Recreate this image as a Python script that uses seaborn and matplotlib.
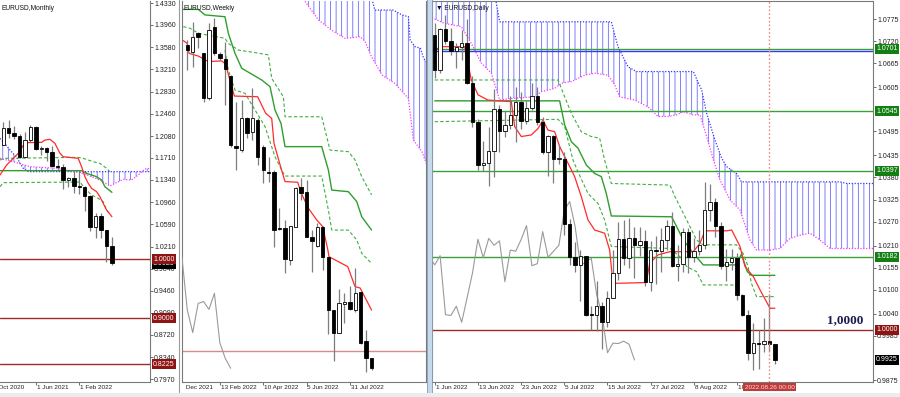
import numpy as np
import pandas as pd
import matplotlib
matplotlib.use("Agg")
import matplotlib.pyplot as plt
import matplotlib.transforms as mtransforms
from matplotlib.patches import Rectangle
from matplotlib.lines import Line2D
import seaborn as sns

sns.set_theme(style="white")
plt.rcParams["font.family"] = ["Liberation Sans", "DejaVu Sans"]
plt.rcParams["hatch.linewidth"] = 0.55

# ======================= DATA =======================
# ---- Monthly EURUSD (Dec 2020 .. Aug 2022) ----
m_open = [1.1926, 1.2216, 1.2136, 1.2075, 1.1729, 1.2020, 1.2226, 1.1858, 1.1870, 1.1808, 1.1578,
          1.1558, 1.1338, 1.1372, 1.1235, 1.1219, 1.1067, 1.0544, 1.0733, 1.0484, 1.0220]
m_high = [1.2310, 1.2350, 1.2243, 1.2113, 1.2150, 1.2266, 1.2254, 1.1909, 1.1901, 1.1909, 1.1692,
          1.1616, 1.1386, 1.1483, 1.1495, 1.1233, 1.1076, 1.0787, 1.0774, 1.0486, 1.0369]
m_low = [1.1923, 1.2053, 1.2024, 1.1704, 1.1704, 1.1986, 1.1847, 1.1752, 1.1664, 1.1563, 1.1524,
         1.1186, 1.1222, 1.1121, 1.1106, 1.0806, 1.0470, 1.0349, 1.0359, 0.9952, 0.9899]
m_close = [1.2216, 1.2136, 1.2075, 1.1729, 1.2020, 1.2226, 1.1858, 1.1870, 1.1808, 1.1578, 1.1558,
           1.1338, 1.1372, 1.1235, 1.1219, 1.1067, 1.0544, 1.0733, 1.0484, 1.0220, 0.9925]
m_tenkan_x = [-0.61, 0.61, 1.84, 2.76, 3.99, 7.06, 7.67, 8.59, 9.51, 10.43, 11.04, 13.80, 14.42,
              15.03, 15.64, 16.26, 17.18, 17.79, 18.40, 19.02, 20.0]
m_tenkan_y = [1.1421, 1.1590, 1.1703, 1.1788, 1.1968, 1.1974, 1.2013, 1.2025, 1.1957, 1.1788, 1.1731,
              1.1703, 1.1562, 1.1393, 1.1281, 1.1196, 1.1140, 1.1055, 1.0942, 1.0829, 1.0717]
m_kijun_x = [-0.61, 14.42, 15.34, 17.18, 18.10, 18.71, 20.0]
m_kijun_y = [1.1495, 1.1495, 1.1450, 1.1393, 1.1337, 1.1224, 1.1128]
m_dashA_x = [-0.61, 0.31, 13.80, 14.72, 16.56, 17.79, 19.02, 19.63]
m_dashA_y = [1.1675, 1.1703, 1.1720, 1.1703, 1.1647, 1.1619, 1.1534, 1.1478]
m_dashB_x = [-0.61, 0.0, 14.11, 15.03, 16.26, 17.48, 18.40, 19.02, 19.63]
m_dashB_y = [1.1224, 1.1292, 1.1303, 1.1196, 1.1083, 1.1027, 1.0970, 1.0829, 1.0760]
m_spanA_x = [-0.61, 0.0, 1.23, 2.45, 3.68, 4.60, 27.0]
m_spanA_y = [1.2041, 1.1985, 1.1844, 1.1720, 1.1534, 1.1478, 1.1478]
m_spanB_x = [-0.61, 1.84, 4.91, 9.82, 11.66, 14.11, 15.95, 17.79, 19.63, 20.55, 22.09, 23.62,
             24.85, 26.07, 27.0]
m_spanB_y = [1.1703, 1.1647, 1.1562, 1.1534, 1.1506, 1.1461, 1.1404, 1.1337, 1.1235, 1.1280,
             1.1348, 1.1337, 1.1421, 1.1523, 1.1534]
m_levels = [1.0000, 0.9000, 0.8225]
m_ticks = [1.4330, 1.3960, 1.3580, 1.3210, 1.2830, 1.2460, 1.2080, 1.1710, 1.1340, 1.0960, 1.0590,
           1.0210, 0.9840, 0.9460, 0.9090, 0.8720, 0.8340, 0.7970]
m_date_pos = [-2, 6, 14]
m_date_lbl = ["1 Oct 2020", "1 Jun 2021", "1 Feb 2022"]

# ---- Weekly EURUSD (week of 2 Jan 2022 .. 28 Aug 2022) ----
w_open = [1.1331, 1.1302, 1.1382, 1.1295, 1.1099, 1.1411, 1.1292, 1.1269, 1.1196, 1.0892, 1.0874,
          1.1012, 1.0954, 1.1005, 1.0889, 1.0780, 1.0780, 1.0534, 1.0534, 1.0396, 1.0541, 1.0712,
          1.0693, 1.0497, 1.0457, 1.0538, 1.0410, 1.0178, 1.0080, 1.0204, 1.0215, 1.0178, 1.0258,
          1.0045, 0.9968]
w_high = [1.1353, 1.1433, 1.1389, 1.1295, 1.1428, 1.1447, 1.1300, 1.1346, 1.1201, 1.1085, 1.1092,
          1.1019, 1.1143, 1.1012, 1.0896, 1.0845, 1.0787, 1.0621, 1.0570, 1.0544, 1.0715, 1.0751,
          1.0744, 1.0526, 1.0555, 1.0544, 1.0410, 1.0178, 1.0268, 1.0251, 1.0283, 1.0360, 1.0258,
          1.0091, 0.9968]
w_low = [1.1222, 1.1237, 1.1317, 1.1085, 1.1092, 1.1288, 1.1265, 1.1070, 1.0889, 1.0787, 1.0867,
         1.0925, 1.0918, 1.0809, 1.0729, 1.0737, 1.0454, 1.0526, 1.0338, 1.0374, 1.0538, 1.0657,
         1.0494, 1.0345, 1.0454, 1.0352, 1.0074, 0.9958, 1.0077, 1.0120, 1.0178, 1.0171, 1.0030,
         0.9910, 0.9917]
w_close = [1.1309, 1.1364, 1.1364, 1.1099, 1.1396, 1.1298, 1.1273, 1.1225, 1.0896, 1.0882, 1.1012,
           1.0947, 1.1012, 1.0845, 1.0787, 1.0776, 1.0526, 1.0530, 1.0399, 1.0544, 1.0708, 1.0689,
           1.0497, 1.0480, 1.0538, 1.0410, 1.0178, 1.0080, 1.0207, 1.0215, 1.0181, 1.0251, 1.0036,
           0.9968, 0.9925]
w_tenkan_x = [-0.74, 0, 0.31, 2.03, 3.88, 6.34, 7.08, 7.69, 8.68, 12.98, 14.46, 15.57, 16.0, 17.29,
              18.03, 20.37, 20.98, 22.34, 23.88, 24.98, 25.91, 26.15, 29.6, 30.95, 31.88, 34.0]
w_tenkan_y = [1.1350, 1.1338, 1.1295, 1.1283, 1.1259, 1.1262, 1.1248, 1.1193, 1.1109, 1.1106,
              1.1034, 1.1012, 1.0903, 1.0795, 1.0737, 1.0734, 1.0689, 1.0621, 1.0570, 1.0541,
              1.0442, 1.0410, 1.0367, 1.0280, 1.0274, 1.0178]
w_kijun_x = [-0.74, 2.03, 3.26, 6.95, 7.57, 8.80, 10.03, 13.72, 15.26, 16.18, 17.29, 18.03, 24.8,
             26.03, 26.65, 29.72, 31.26, 32.18, 34.0]
w_kijun_y = [1.1486, 1.1486, 1.1462, 1.1454, 1.1382, 1.1295, 1.1230, 1.1179, 1.1150, 1.1048, 1.0990,
             1.0889, 1.0889, 1.0787, 1.0700, 1.0693, 1.0650, 1.0584, 1.0526]
w_dashA_x = [-0.74, 0.49, 2.03, 6.95, 7.57, 9.42, 12.49, 14.95, 15.57, 17.72, 18.03, 24.8, 26.34,
             29.72, 30.95, 32.18, 34.0]
w_dashA_y = [1.1411, 1.1404, 1.1382, 1.1360, 1.1338, 1.1309, 1.1298, 1.1288, 1.1186, 1.1106, 1.1019,
             1.1019, 1.0874, 1.0867, 1.0831, 1.0758, 1.0679]
w_dashB_x = [6.95, 7.57, 8.80, 10.65, 14.34, 16.18, 17.42, 18.03, 24.8, 26.03, 26.65, 29.72, 31.26,
             32.18, 34.0]
w_dashB_y = [1.1309, 1.1222, 1.1135, 1.1121, 1.0976, 1.0845, 1.0787, 1.0761, 1.0761, 1.0613, 1.0526,
             1.0526, 1.0483, 1.0425, 1.0381]
w_spanA_x = [20.5, 33.8, 34.2, 34.6, 38.0, 39.6, 40.8, 41.1, 42.0, 43.0, 43.6, 44.1]
w_spanA_y = [1.170, 1.170, 1.1520, 1.1483, 1.1483, 1.1462, 1.1454, 1.1353, 1.1324, 1.1317, 1.1273,
             1.1259]
w_spanB_x = [20.5, 24.2, 26.6, 29.1, 31.9, 32.8, 34.0, 35.9, 38.3, 40.2, 40.8, 41.7, 43.3, 44.1]
w_spanB_y = [1.1560, 1.1440, 1.1396, 1.1360, 1.1367, 1.1346, 1.1280, 1.1201, 1.1164, 1.1114, 1.1099,
             1.0918, 1.0867, 1.0816]
w_level = 1.0000
w_date_pos = [-2, 6, 14, 22, 30]
w_date_lbl = ["19 Dec 2021", "13 Feb 2022", "10 Apr 2022", "5 Jun 2022", "31 Jul 2022"]

# ---- Daily EURUSD (1 Jun 2022 .. 29 Aug 2022) ----
d_open = [1.0734, 1.0647, 1.0749, 1.0719, 1.0695, 1.0705, 1.0716, 1.0615, 1.0518, 1.0410, 1.0416,
          1.0446, 1.0551, 1.0495, 1.0510, 1.0535, 1.0567, 1.0521, 1.0554, 1.0584, 1.0519, 1.0443,
          1.0483, 1.0425, 1.0426, 1.0265, 1.0182, 1.0162, 1.0185, 1.0038, 1.0036, 1.0059, 1.0019,
          1.0080, 1.0142, 1.0226, 1.0180, 1.0228, 1.0211, 1.0222, 1.0120, 1.0199, 1.0196, 1.0225,
          1.0260, 1.0160, 1.0165, 1.0245, 1.0181, 1.0196, 1.0211, 1.0298, 1.0320, 1.0258, 1.0160,
          1.0170, 1.0178, 1.0088, 1.0037, 0.9943, 0.9967, 0.9966, 0.9972, 0.9964]
d_high = [1.0764, 1.0753, 1.0786, 1.0752, 1.0716, 1.0748, 1.0774, 1.0633, 1.0525, 1.0470, 1.0506,
          1.0601, 1.0560, 1.0545, 1.0583, 1.0606, 1.0593, 1.0570, 1.0615, 1.0606, 1.0531, 1.0486,
          1.0486, 1.0462, 1.0444, 1.0277, 1.0220, 1.0200, 1.0185, 1.0060, 1.0122, 1.0069, 1.0097,
          1.0200, 1.0270, 1.0273, 1.0278, 1.0256, 1.0257, 1.0249, 1.0221, 1.0234, 1.0254, 1.0274,
          1.0294, 1.0211, 1.0254, 1.0253, 1.0228, 1.0248, 1.0368, 1.0364, 1.0330, 1.0268, 1.0202,
          1.0202, 1.0192, 1.0090, 1.0049, 1.0017, 0.9999, 1.0030, 1.0090, 0.9964]
d_low = [1.0627, 1.0640, 1.0713, 1.0686, 1.0653, 1.0674, 1.0612, 1.0506, 1.0398, 1.0397, 1.0358,
         1.0381, 1.0444, 1.0480, 1.0500, 1.0469, 1.0502, 1.0513, 1.0548, 1.0511, 1.0438, 1.0383,
         1.0366, 1.0413, 1.0236, 1.0162, 1.0144, 1.0072, 1.0035, 0.9999, 0.9998, 0.9952, 1.0006,
         1.0079, 1.0125, 1.0162, 1.0154, 1.0130, 1.0183, 1.0110, 1.0097, 1.0114, 1.0145, 1.0199,
         1.0157, 1.0123, 1.0145, 1.0141, 1.0170, 1.0186, 1.0202, 1.0272, 1.0232, 1.0153, 1.0122,
         1.0149, 1.0074, 1.0034, 0.9926, 0.9899, 0.9902, 0.9946, 0.9947, 0.9914]
d_close = [1.0647, 1.0749, 1.0719, 1.0695, 1.0705, 1.0716, 1.0615, 1.0518, 1.0410, 1.0416, 1.0446,
           1.0551, 1.0495, 1.0510, 1.0535, 1.0567, 1.0521, 1.0554, 1.0584, 1.0519, 1.0443, 1.0483,
           1.0425, 1.0426, 1.0265, 1.0182, 1.0162, 1.0185, 1.0038, 1.0036, 1.0059, 1.0019, 1.0080,
           1.0142, 1.0226, 1.0180, 1.0228, 1.0211, 1.0222, 1.0120, 1.0199, 1.0196, 1.0225, 1.0260,
           1.0160, 1.0165, 1.0245, 1.0181, 1.0196, 1.0211, 1.0298, 1.0320, 1.0258, 1.0160, 1.0170,
           1.0178, 1.0088, 1.0037, 0.9943, 0.9967, 0.9966, 0.9972, 0.9964, 0.9925]
d_tenkan_x = [0, 1.23, 5.55, 6.78, 8.02, 9.87, 14.19, 14.81, 16.04, 17.9, 19.13, 20.06, 20.98, 22.22,
              23.14, 24.07, 25.31, 25.92, 27.15, 28.39, 29.62, 31.47, 32.40, 33.02, 39.19, 39.81,
              41.35, 43.57, 47.89, 49.13, 50.06, 54.07, 55.0, 56.54, 57.46, 59.0, 60.24, 62.09, 63.0]
d_tenkan_y = [1.0698, 1.0706, 1.0706, 1.0623, 1.0586, 1.0573, 1.0569, 1.0507, 1.0482, 1.0486, 1.0502,
              1.0523, 1.0498, 1.0494, 1.0457, 1.0432, 1.0399, 1.0382, 1.0332, 1.0274, 1.0249, 1.0241,
              1.0199, 1.0116, 1.0118, 1.0166, 1.0187, 1.0195, 1.0195, 1.0216, 1.0247, 1.0247, 1.0249,
              1.0208, 1.0158, 1.0133, 1.0100, 1.0054, 1.0054]
d_kijun_x = [0, 23.14, 24.07, 25.31, 26.54, 28.08, 29.62, 30.86, 31.78, 32.71, 43.88, 45.12, 46.04,
             47.89, 49.74, 55.9, 56.8, 57.9, 58.7, 63.0]
d_kijun_y = [1.0571, 1.0571, 1.0511, 1.0469, 1.0453, 1.0411, 1.0390, 1.0382, 1.0340, 1.0284, 1.0282,
             1.0249, 1.0224, 1.0191, 1.0162, 1.0162, 1.0189, 1.0145, 1.0136, 1.0136]
d_dashA_x = [0, 22.83, 24.07, 25.31, 27.15, 29.0, 30.55, 31.47, 32.71, 43.57, 44.5, 45.43, 46.66,
             47.58, 48.51, 49.74, 55.9, 57.1, 58.04, 58.66, 59.6, 63.0]
d_dashA_y = [1.0623, 1.0623, 1.0581, 1.0540, 1.0494, 1.0482, 1.0478, 1.0423, 1.0365, 1.0361, 1.0332,
             1.0307, 1.0274, 1.0249, 1.0224, 1.0212, 1.0212, 1.0191, 1.0158, 1.0116, 1.0083, 1.0083]
d_dashB_x = [0, 22.83, 24.07, 24.69, 25.62, 26.54, 28.39, 30.24, 31.47, 32.71, 43.57, 45.43, 46.66,
             48.51, 49.74, 55.9]
d_dashB_y = [1.0519, 1.0525, 1.0507, 1.0473, 1.0423, 1.0394, 1.0340, 1.0315, 1.0274, 1.0208, 1.0203,
             1.0182, 1.0158, 1.0145, 1.0112, 1.0112]
d_spanA_x = [-0.5, 11.1, 11.42, 12.03, 32.71, 33.94, 35.80, 37.34, 47.89, 49.44, 50.36, 51.91, 53.14,
             54.07, 55.9, 56.8, 75.06, 76.3, 81.2]
d_spanA_y = [1.0850, 1.0850, 1.0814, 1.0768, 1.0768, 1.0706, 1.0656, 1.0644, 1.0644, 1.0598, 1.0540,
             1.0473, 1.0428, 1.0407, 1.0390, 1.0369, 1.0369, 1.0365, 1.0365]
d_spanB_x = [-0.5, 1.85, 4.93, 6.78, 8.64, 10.49, 12.03, 14.19, 18.51, 19.75, 22.22, 23.45, 25.31,
             27.77, 29.62, 32.09, 33.33, 34.25, 37.03, 39.5, 41.35, 43.21, 44.81, 46.04, 47.89, 49.13,
             50.36, 51.6, 52.83, 54.69, 56.54, 58.39, 59.6, 62.09, 63.94, 65.79, 67.65, 69.5, 71.35,
             73.2, 76.3, 81.2]
d_spanB_y = [1.0778, 1.0764, 1.0756, 1.0714, 1.0665, 1.0640, 1.0573, 1.0577, 1.0581, 1.0594, 1.0602,
             1.0615, 1.0619, 1.0635, 1.0640, 1.0635, 1.0611, 1.0581, 1.0573, 1.0556, 1.0532, 1.0532,
             1.0536, 1.0544, 1.0536, 1.0536, 1.0482, 1.0424, 1.0374, 1.0324, 1.0299, 1.0224, 1.0199,
             1.0199, 1.0203, 1.0228, 1.0236, 1.0241, 1.0224, 1.0203, 1.0203, 1.0203]
d_levels_green = [1.0701, 1.0545, 1.0397, 1.0182]
d_level_blue = 1.0696
d_level_red = 1.0000
last_price = 0.9925
d_ticks = [1.0775, 1.0720, 1.0665, 1.0605, 1.0495, 1.0435, 1.0380, 1.0325, 1.0270, 1.0210, 1.0155,
           1.0100, 1.0040, 0.9985, 0.9875]
d_dates = pd.bdate_range("2022-06-01", "2022-08-29")
d_tick_dates = ["2022-06-01", "2022-06-13", "2022-06-23", "2022-07-05", "2022-07-15",
                "2022-07-27", "2022-08-08", "2022-08-18"]
cursor_date = "2022-08-26"
chikou_shift = 26

# ======================= STYLE =======================
RED = "#ff2b2b"
GREEN = "#2f9e2f"
GREEN_D = "#3fae3f"
BLUE = "#3535ff"
MAGENTA = "#ff38ff"
HATCH = "#5c5cff"
GREY = "#9a9a9a"
LEVEL_RED = "#9c2a2a"
BOX_RED = "#8e1414"
BOX_GREEN = "#137f13"
DASH = (0, (3, 2))
DOT = (0, (1, 1.3))

W, H = 900, 397
fig = plt.figure(figsize=(W / 100, H / 100), dpi=100)
fig.patch.set_facecolor("white")


def panel(x0, x1, y0=1, y1=382):
    ax = fig.add_axes([x0 / W, 1 - y1 / H, (x1 - x0) / W, (y1 - y0) / H])
    ax.set_facecolor("white")
    for s in ax.spines.values():
        s.set_color("#7a7a7a")
        s.set_linewidth(0.8)
    return ax


def candles(ax, o, h, l, c, minh):
    o, h, l, c = map(np.asarray, (o, h, l, c))
    x = np.arange(len(o))
    ax.vlines(x, l, h, color="#7d7d7d", lw=0.9, zorder=4)
    up = c >= o
    bottom = np.minimum(o, c)
    height = np.maximum(np.abs(c - o), minh)
    ax.bar(x[up], height[up], 0.62, bottom[up], color="white", edgecolor="black", lw=0.6, zorder=5)
    ax.bar(x[~up], height[~up], 0.62, bottom[~up], color="black", edgecolor="black", lw=0.6, zorder=5)


def line(ax, xs, ys, color, ls="-", lw=0.9, z=3):
    sns.lineplot(x=list(xs), y=list(ys), ax=ax, color=color, linestyle=ls, linewidth=lw,
                 sort=False, estimator=None, zorder=z, legend=False)


def kumo(ax, xa, ya, xb, yb):
    ax.fill(np.r_[xa, xb[::-1]], np.r_[ya, yb[::-1]], facecolor="none", edgecolor=HATCH,
            hatch="|||", linewidth=0, zorder=1)
    line(ax, xa, ya, BLUE, ls=DOT, lw=0.9, z=2)
    line(ax, xb, yb, MAGENTA, ls=DOT, lw=0.9, z=2)


def price_box(ax, y, text, fc, z=10):
    ax.annotate(text, xy=(1, y), xycoords=("axes fraction", "data"), xytext=(2.3, 0),
                textcoords="offset points", ha="left", va="center", fontsize=5, color="white",
                bbox=dict(boxstyle="square,pad=0.22", fc=fc, ec="none"),
                annotation_clip=False, zorder=z)


def date_labels(ax, pos, labels, x0, x1):
    clip = mtransforms.TransformedBbox(mtransforms.Bbox([[x0 / W, 0], [x1 / W, 1]]), fig.transFigure)
    trans = mtransforms.blended_transform_factory(ax.transData, ax.transAxes)
    lo, hi = ax.get_xlim()
    ax.set_xticks([p for p in pos if lo <= p <= hi])
    ax.set_xticklabels([])
    ax.tick_params(axis="x", bottom=True, length=2.2, width=0.6, color="#555555")
    for p, t in zip(pos, labels):
        txt = ax.text(p + 0.15, -0.008, t, transform=trans, ha="left", va="top", fontsize=4.6,
                      color="#222222", clip_on=True)
        txt.set_clip_box(clip)


def finish(ax, xlim, ylim, title, right_ticks=None):
    ax.set_xlim(*xlim)
    ax.set_ylim(*ylim)
    ax.set_xlabel("")
    ax.set_ylabel("")
    if right_ticks is not None:
        ax.yaxis.tick_right()
        ax.set_yticks(right_ticks)
        ax.set_yticklabels([f"{v:.4f}" for v in right_ticks])
        ax.tick_params(axis="y", right=True, left=False, direction="out", length=2, width=0.6,
                       pad=1, labelsize=5, labelcolor="#222222", color="#555555")
    else:
        ax.set_yticks([])
    ax.text(0.008, 0.99, title, transform=ax.transAxes, ha="left", va="top", fontsize=4.8,
            color="#111111", zorder=20)


# ======================= MONTHLY =======================
axm = panel(0, 150)
m_ylim = (0.7921, 1.4364)
kumo(axm, m_spanA_x, m_spanA_y, m_spanB_x, m_spanB_y)
for lv in m_levels:
    axm.axhline(lv, color=LEVEL_RED, lw=1.0, zorder=2)
line(axm, m_dashA_x, m_dashA_y, GREEN_D, ls=DASH, lw=0.8)
line(axm, m_dashB_x, m_dashB_y, GREEN_D, ls=DASH, lw=0.8)
line(axm, m_kijun_x, m_kijun_y, GREEN, lw=1.0)
line(axm, m_tenkan_x, m_tenkan_y, RED, lw=0.9)
candles(axm, m_open, m_high, m_low, m_close, (m_ylim[1] - m_ylim[0]) / 381)
finish(axm, (-0.61, 27.02), m_ylim, "EURUSD,Monthly", m_ticks)
axm.spines["left"].set_visible(False)
axm.spines["top"].set_visible(False)
date_labels(axm, m_date_pos, m_date_lbl, 0, 150)
price_box(axm, last_price, f"{last_price:.4f}", "black", z=9)
for lv in m_levels:
    price_box(axm, lv, f"{lv:.4f}", BOX_RED)

# ======================= WEEKLY =======================
axw = panel(182, 426)
w_ylim = (0.98651, 1.15225)
kumo(axw, w_spanA_x, w_spanA_y, w_spanB_x, w_spanB_y)
axw.axhline(w_level, color="#d98a8a", lw=1.0, zorder=2)
line(axw, w_dashA_x, w_dashA_y, GREEN_D, ls=DASH, lw=0.8)
line(axw, w_dashB_x, w_dashB_y, GREEN_D, ls=DASH, lw=0.8)
line(axw, w_kijun_x, w_kijun_y, GREEN, lw=1.0)
line(axw, w_tenkan_x, w_tenkan_y, RED, lw=0.9)
w_idx = np.arange(len(w_close))
line(axw, w_idx[25:] - chikou_shift, w_close[25:], GREY, lw=0.8)
candles(axw, w_open, w_high, w_low, w_close, (w_ylim[1] - w_ylim[0]) / 381)
finish(axw, (-0.98, 44.04), w_ylim, "EURUSD,Weekly")
axw.spines["top"].set_visible(False)
date_labels(axw, w_date_pos, w_date_lbl, 185, 426)

# ======================= DAILY =======================
axd = panel(432, 873)
d_ylim = (0.98701, 1.08199)
kumo(axd, d_spanA_x, d_spanA_y, d_spanB_x, d_spanB_y)
for lv in d_levels_green:
    axd.axhline(lv, color="#38a038", lw=1.0, zorder=2)
axd.axhline(d_level_blue, color="#3a3ae8", lw=1.0, zorder=2)
axd.axhline(d_level_red, color=LEVEL_RED, lw=1.0, zorder=2)
line(axd, d_dashA_x, d_dashA_y, GREEN_D, ls=DASH, lw=0.8)
line(axd, d_dashB_x, d_dashB_y, GREEN_D, ls=DASH, lw=0.8)
line(axd, d_kijun_x, d_kijun_y, GREEN, lw=1.0)
line(axd, d_tenkan_x, d_tenkan_y, RED, lw=0.9)
d_idx = np.arange(len(d_close))
line(axd, d_idx[25:] - chikou_shift, d_close[25:], GREY, lw=0.8)
cursor_idx = int(d_dates.get_loc(pd.Timestamp(cursor_date)))
axd.axvline(cursor_idx, color="#e58c8c", lw=1.0, ls=(0, (1.2, 1.5)), zorder=6)
candles(axd, d_open, d_high, d_low, d_close, (d_ylim[1] - d_ylim[0]) / 381)
finish(axd, (-0.5, 81.17), d_ylim, "\u25bc EURUSD,Daily", d_ticks)
d_tick_pos = [int(d_dates.get_loc(pd.Timestamp(t))) for t in d_tick_dates]
d_tick_lbl = [f"{pd.Timestamp(t).day} {pd.Timestamp(t):%b %Y}" for t in d_tick_dates]
date_labels(axd, d_tick_pos, d_tick_lbl, 432, 873)
axd.text(76, 1.0025, "1,0000", ha="center", va="center", fontsize=9.5, fontweight="bold",
         family=["Liberation Serif", "DejaVu Serif"], color="#1b1b4d", zorder=12)
for lv in d_levels_green:
    price_box(axd, lv, f"{lv:.4f}", BOX_GREEN)
price_box(axd, d_level_red, f"{d_level_red:.4f}", BOX_RED)
price_box(axd, last_price, f"{last_price:.4f}", "black")
axd.annotate(f"{pd.Timestamp(cursor_date):%Y.%m.%d} 00:00", xy=(cursor_idx, 0),
             xycoords=("data", "axes fraction"), xytext=(0, -2.0), textcoords="offset points",
             ha="center", va="top", fontsize=4.6, color="#f6e0e0",
             bbox=dict(boxstyle="square,pad=0.25", fc="#c03a3a", ec="none"),
             annotation_clip=False, zorder=30)

# ======================= FRAME / SEPARATORS =======================
fig.add_artist(Line2D([178.5 / W, 178.5 / W], [4 / H, 1], color="#9a9a9a", lw=0.8,
                      transform=fig.transFigure, zorder=5))
fig.add_artist(Rectangle((426.5 / W, 4 / H), 5 / W, 1, transform=fig.transFigure,
                         facecolor="#c6daee", edgecolor="#8496a8", lw=0.6, zorder=5))
fig.add_artist(Rectangle((0, 0), 1, 4 / H, transform=fig.transFigure,
                         facecolor="#ececec", edgecolor="none", zorder=6))

fig.savefig("out.png", dpi=100, facecolor="white")
